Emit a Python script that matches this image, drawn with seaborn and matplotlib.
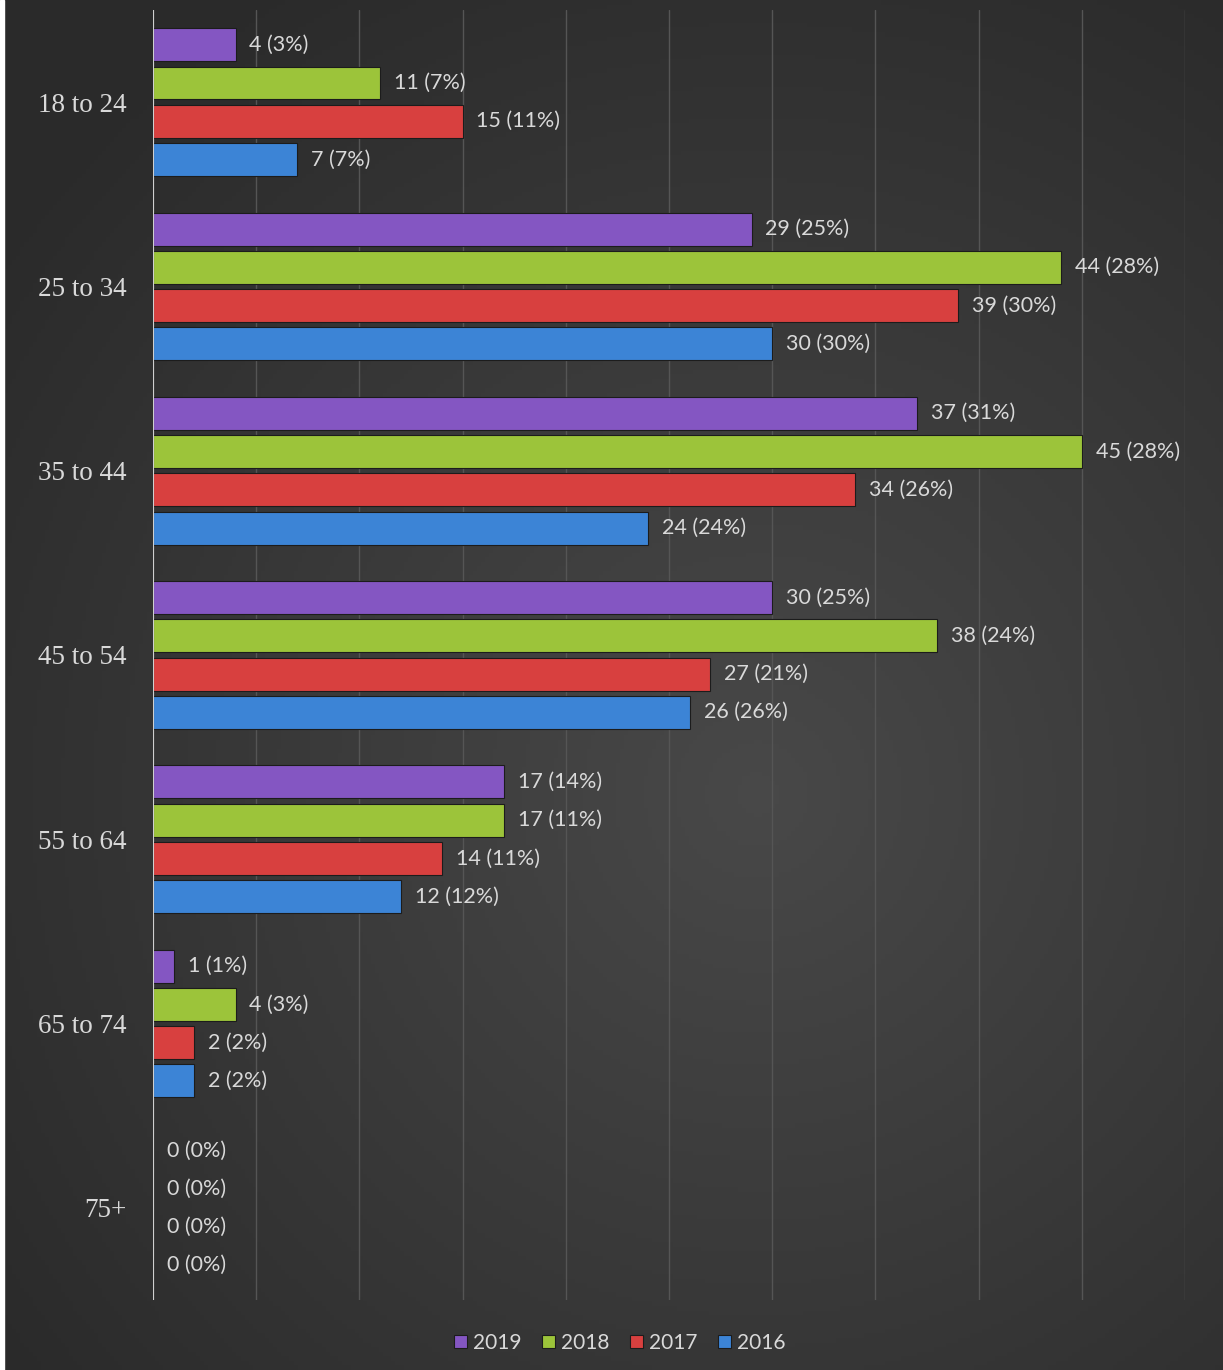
import numpy as np
import pandas as pd
import matplotlib
matplotlib.use('Agg')
import matplotlib.pyplot as plt
import seaborn as sns

age_groups = ['18 to 24', '25 to 34', '35 to 44', '45 to 54', '55 to 64', '65 to 74', '75+']
years = ['2019', '2018', '2017', '2016']

counts_2019 = [4, 29, 37, 30, 17, 1, 0]
counts_2018 = [11, 44, 45, 38, 17, 4, 0]
counts_2017 = [15, 39, 34, 27, 14, 2, 0]
counts_2016 = [7, 30, 24, 26, 12, 2, 0]

pct_2019 = [3, 25, 31, 25, 14, 1, 0]
pct_2018 = [7, 28, 28, 24, 11, 3, 0]
pct_2017 = [11, 30, 26, 21, 11, 2, 0]
pct_2016 = [7, 30, 24, 26, 12, 2, 0]

colors = ['#8456c2', '#9cc43a', '#d8403f', '#3c84d6']

counts = {'2019': counts_2019, '2018': counts_2018, '2017': counts_2017, '2016': counts_2016}
pcts = {'2019': pct_2019, '2018': pct_2018, '2017': pct_2017, '2016': pct_2016}

rows = []
for y in years:
    for g, c, p in zip(age_groups, counts[y], pcts[y]):
        rows.append({'age': g, 'year': y, 'count': c, 'pct': p})
df = pd.DataFrame(rows)

sns.set_style('dark')
fig = plt.figure(figsize=(12.23, 13.7), dpi=100)

# background gradient (lighter in the middle, darker towards the edges)
bg = fig.add_axes([0, 0, 1, 1], zorder=-10)
yy, xx = np.mgrid[0:1:300j, 0:1:300j]
r = np.sqrt(((xx - 0.62) / 1.1) ** 2 + ((yy - 0.58) / 1.0) ** 2)
shade = 0.285 - 0.12 * np.clip(r / 0.7, 0, 1)
bg.imshow(np.dstack([shade, shade, shade]), aspect='auto', extent=[0, 1, 0, 1])
bg.axis('off')
# thin white strip on the left edge
fig.patches.append(plt.Rectangle((0, 0), 0.0035, 1, transform=fig.transFigure,
                                 color='white', zorder=-5))

ax = fig.add_axes([0.1251, 0.0511, 0.8438, 0.9416])
ax.set_facecolor('none')

sns.barplot(data=df, y='age', x='count', hue='year', hue_order=years,
            order=age_groups, palette=colors, saturation=1, orient='h',
            width=0.83, gap=0.14, edgecolor='#1c1c1c', linewidth=0.8,
            ax=ax, legend=True)

for cont, y in zip(ax.containers, years):
    labels = [f'{c} ({p}%)' for c, p in zip(counts[y], pcts[y])]
    ax.bar_label(cont, labels=labels, padding=10, color='#d9d9d9',
                 fontsize=15.5, family='Lato')

ax.set_xlim(0, 50)
ax.set_ylim(6.5, -0.5)
ax.set_xticks(np.arange(0, 51, 5))
ax.set_xticklabels([])
ax.tick_params(axis='both', length=0)
ax.grid(axis='x', color='#555555', linewidth=1)
ax.grid(axis='y', visible=False)
ax.axvline(0, color='#cfcfcf', linewidth=1.5)
for s in ax.spines.values():
    s.set_visible(False)
ax.set_xlabel('')
ax.set_ylabel('')
for t in ax.get_yticklabels():
    t.set_family('Liberation Serif')
    t.set_fontsize(19.5)
    t.set_color('#d9d9d9')
ax.tick_params(axis='y', pad=19)

handles, labs = ax.get_legend_handles_labels()
ax.legend(handles, labs, loc='upper center', bbox_to_anchor=(0.4525, -0.011), ncol=4,
          frameon=False, labelcolor='#d9d9d9', handlelength=0.6,
          handleheight=0.6, handletextpad=0.3, columnspacing=1.0,
          prop={'family': 'Lato', 'size': 15})

fig.savefig('out.png', dpi=100)
